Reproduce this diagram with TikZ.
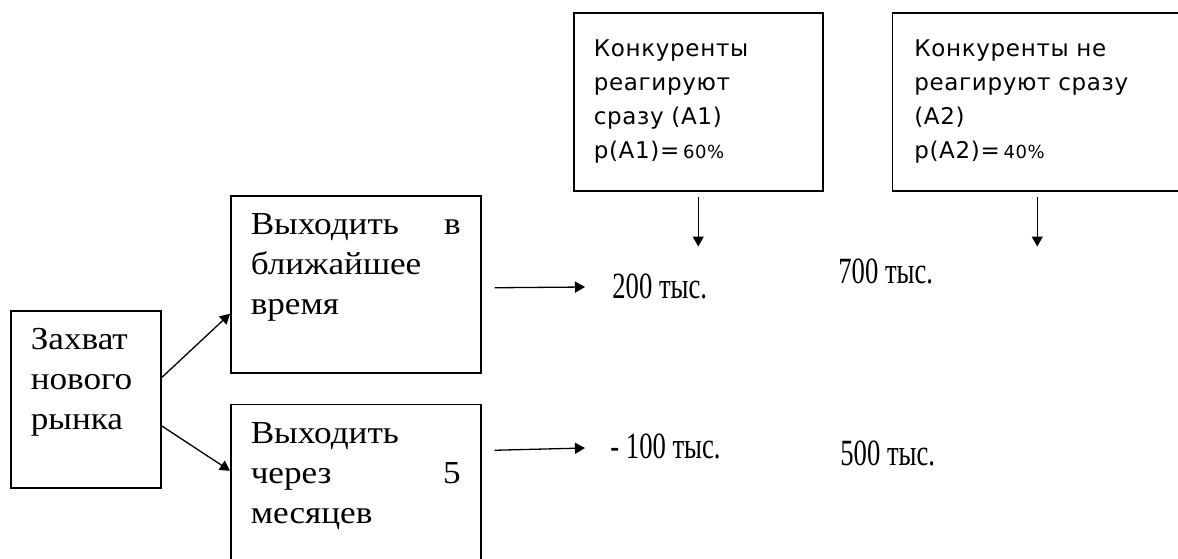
\documentclass[tikz,border=0pt]{standalone}
\usepackage{fontspec}
\setmainfont{Liberation Serif}
\newfontfamily\optfont[FakeStretch=1.1]{Liberation Serif}
\newfontfamily\valfont[FakeStretch=0.72]{Liberation Serif}
\newfontfamily\condfont[LetterSpace=3]{DejaVu Sans}
\usetikzlibrary{shapes,arrows,arrows.meta,positioning}
\newcommand{\spread}{\hskip 0pt plus 1fill\relax}
\tikzstyle{opt}=[rectangle,draw,line width=0.75pt,align=left,inner xsep=10pt,minimum height=88.5pt,font=\optfont\fontsize{16}{20}\selectfont]
\tikzstyle{cond}=[rectangle,draw,line width=0.75pt,align=left,minimum height=89pt,font=\condfont\fontsize{11.5}{17}\selectfont]
\tikzstyle{val}=[inner sep=0pt,anchor=base west,font=\valfont\fontsize{18.5}{20}\selectfont]
\tikzstyle{arr}=[-{Triangle[length=5pt,width=5.5pt]},line width=0.65pt]

\begin{document}
\begin{tikzpicture}[x=0.5pt,y=-0.5pt]
\useasboundingbox (0,0) rectangle (1178,558);
\node (A) [opt, text width=55pt, anchor=north west] at (10,310) {Захват\\нового\\рынка\\\mbox{}};
\node (B) [opt, text width=105pt, anchor=north west] at (230,195) {Выходить\spread в\\ближайшее\\время\\\mbox{}};
\node (C) [opt, text width=105pt, below=15pt of B] {Выходить\\через\spread 5\\месяцев\\\mbox{}};
\node (D) [cond, text width=104.5pt, inner xsep=10pt, anchor=north west] at (573,12) {Конкуренты\\реагируют\\сразу (А1)\\p(А1)=\,{\fontsize{9}{17}\selectfont 60\%}};
\node (E) [cond, text width=123pt, inner xsep=11pt, right=34pt of D] {Конкуренты не\\реагируют сразу\\(А2)\\p(А2)=\,{\fontsize{9}{17}\selectfont 40\%}};
\node (F) [val] at (612,298) {200 тыс.};
\node (G) [val] at (838,283) {700 тыс.};
\node (H) [val] at (610,458) {- 100 тыс.};
\node (I) [val] at (840,465) {500 тыс.};
\coordinate (Dtip) at ([yshift=-27.5pt]D.south);
\coordinate (Etip) at ([yshift=-27.5pt]E.south);
\draw [arr] ([yshift=10.75pt]A.east) -- ([yshift=-14.75pt]B.west);
\draw [arr] ([yshift=-13.25pt]A.east) -- ([yshift=11pt]C.west);
\draw [arr] ([xshift=6.5pt,yshift=-1.75pt]B.east) -- ([xshift=-13.5pt,yshift=5.5pt]F.base west);
\draw [arr] ([xshift=6.5pt,yshift=21.25pt]C.east) -- ([xshift=-12.5pt,yshift=5pt]H.base west);
\draw [arr] ([yshift=-2.5pt]D.south) -- (Dtip);
\draw [arr] ([yshift=-2.5pt]E.south) -- (Etip);
\end{tikzpicture}
\end{document}
